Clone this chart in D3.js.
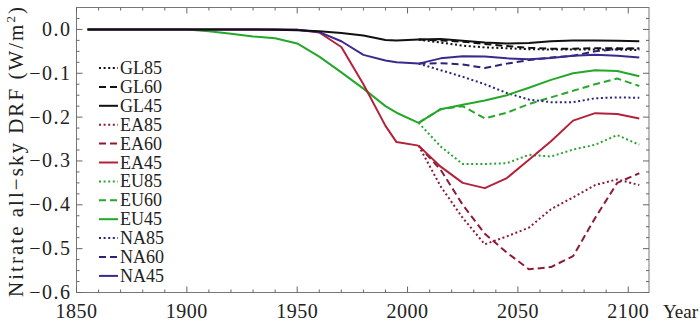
<!DOCTYPE html>
<html>
<head>
<meta charset="utf-8">
<script src="https://cdn.jsdelivr.net/npm/d3@7"></script>
<style>
  body { margin: 0; background: #fff; }
  svg { display: block; }
</style>
</head>
<body>
<script>
const W = 700, H = 323;
const box = {left: 76.5, top: 7.5, right: 649, bottom: 292.5};

// historical period, shared by all scenarios of a region
const histYears = [1855, 1900, 1910, 1920, 1930, 1940, 1950, 1960, 1970, 1980, 1990, 1995, 2005];
const histGL = [0, 0, 0, 0, 0, -0.001, -0.002, -0.004, -0.008, -0.014, -0.024, -0.025, -0.023];
const histEA = [0, 0, 0, 0, 0, 0, -0.001, -0.007, -0.04, -0.125, -0.22, -0.257, -0.265];
const histEU = [0, 0, -0.004, -0.01, -0.016, -0.02, -0.032, -0.062, -0.098, -0.135, -0.175, -0.19, -0.213];
const histNA = [0, 0, 0, 0, 0, 0, -0.001, -0.006, -0.027, -0.058, -0.071, -0.075, -0.078];

// scenario period
const futYears = [2005, 2015, 2025, 2035, 2045, 2055, 2065, 2075, 2085, 2095, 2105];
const GL85 = [-0.023, -0.03, -0.037, -0.041, -0.043, -0.045, -0.046, -0.046, -0.046, -0.046, -0.047];
const GL60 = [-0.023, -0.025, -0.028, -0.033, -0.038, -0.042, -0.044, -0.044, -0.043, -0.043, -0.044];
const GL45 = [-0.023, -0.022, -0.026, -0.03, -0.032, -0.031, -0.027, -0.025, -0.025, -0.026, -0.027];
const EA85 = [-0.265, -0.358, -0.43, -0.49, -0.472, -0.452, -0.41, -0.383, -0.355, -0.342, -0.355];
const EA60 = [-0.265, -0.32, -0.4, -0.466, -0.509, -0.547, -0.542, -0.517, -0.43, -0.35, -0.328];
const EA45 = [-0.265, -0.313, -0.35, -0.362, -0.339, -0.297, -0.255, -0.208, -0.191, -0.193, -0.203];
const EU85 = [-0.213, -0.267, -0.307, -0.307, -0.305, -0.286, -0.29, -0.274, -0.263, -0.241, -0.263];
const EU60 = [-0.213, -0.182, -0.175, -0.203, -0.19, -0.17, -0.155, -0.14, -0.125, -0.112, -0.129];
const EU45 = [-0.213, -0.182, -0.172, -0.162, -0.15, -0.133, -0.115, -0.1, -0.093, -0.095, -0.107];
const NA85 = [-0.078, -0.093, -0.108, -0.125, -0.145, -0.16, -0.166, -0.166, -0.157, -0.155, -0.156];
const NA60 = [-0.078, -0.077, -0.08, -0.088, -0.078, -0.07, -0.064, -0.06, -0.05, -0.045, -0.043];
const NA45 = [-0.078, -0.066, -0.061, -0.062, -0.066, -0.068, -0.065, -0.06, -0.058, -0.06, -0.064];

const xTicks = [1850, 1900, 1950, 2000, 2050, 2100];
const yTicks = [0, -0.1, -0.2, -0.3, -0.4, -0.5, -0.6];

const colors = {GL: '#111111', EA: '#b3223a', EU: '#23a82a', NA: '#3b2a8c'};
// scenario lines of a region are a bit darker in the figure
const darkColors = {GL: '#111111', EA: '#8c1b38', EU: '#2aa530', NA: '#2e2278'};
const dashes = {'85': '2,2.6', '60': '7,4', '45': null};
const lineColor = s => s.sc === '45' ? colors[s.region] : darkColors[s.region];

const history = [
  {region: 'EU', values: histEU},
  {region: 'EA', values: histEA},
  {region: 'NA', values: histNA},
  {region: 'GL', values: histGL}
];

const series = [
  {name: 'GL85', region: 'GL', sc: '85', values: GL85},
  {name: 'GL60', region: 'GL', sc: '60', values: GL60},
  {name: 'GL45', region: 'GL', sc: '45', values: GL45},
  {name: 'EA85', region: 'EA', sc: '85', values: EA85},
  {name: 'EA60', region: 'EA', sc: '60', values: EA60},
  {name: 'EA45', region: 'EA', sc: '45', values: EA45},
  {name: 'EU85', region: 'EU', sc: '85', values: EU85},
  {name: 'EU60', region: 'EU', sc: '60', values: EU60},
  {name: 'EU45', region: 'EU', sc: '45', values: EU45},
  {name: 'NA85', region: 'NA', sc: '85', values: NA85},
  {name: 'NA60', region: 'NA', sc: '60', values: NA60},
  {name: 'NA45', region: 'NA', sc: '45', values: NA45}
];

const x = d3.scaleLinear().domain([1850, 2109.4]).range([box.left, box.right]);
const y = d3.scaleLinear().domain([-0.6, 0.05]).range([box.bottom, box.top]);

const svg = d3.select('body').append('svg')
  .attr('width', W)
  .attr('height', H)
  .attr('viewBox', [0, 0, W, H])
  .attr('font-family', "'Liberation Serif', 'Times New Roman', serif");

const tickColor = '#666';

// frame
svg.append('rect')
  .attr('x', box.left).attr('y', box.top)
  .attr('width', box.right - box.left).attr('height', box.bottom - box.top)
  .attr('fill', 'none').attr('stroke', '#777').attr('stroke-width', 1);

// inward ticks on all four sides
const xMinor = d3.range(1860, 2110, 10).filter(v => v % 50 !== 0);
const yMinor = d3.range(-0.575, 0.05, 0.025).filter(v => Math.abs(v * 10 - Math.round(v * 10)) > 0.01);

const tickG = svg.append('g').attr('stroke', tickColor).attr('stroke-width', 1);

const addXTicks = (vals, len) => {
  tickG.selectAll(null).data(vals).join('line')
    .attr('x1', d => x(d)).attr('x2', d => x(d))
    .attr('y1', box.bottom).attr('y2', box.bottom - len);
  tickG.selectAll(null).data(vals).join('line')
    .attr('x1', d => x(d)).attr('x2', d => x(d))
    .attr('y1', box.top).attr('y2', box.top + len);
};
const addYTicks = (vals, len) => {
  tickG.selectAll(null).data(vals).join('line')
    .attr('y1', d => y(d)).attr('y2', d => y(d))
    .attr('x1', box.left).attr('x2', box.left + len);
  tickG.selectAll(null).data(vals).join('line')
    .attr('y1', d => y(d)).attr('y2', d => y(d))
    .attr('x1', box.right).attr('x2', box.right - len);
};
addXTicks(xTicks, 6);
addXTicks(xMinor, 3);
addYTicks(yTicks, 6);
addYTicks(yMinor, 3);

// tick labels
const fmt = d3.format('.1f');
svg.append('g').selectAll('text').data(yTicks).join('text')
  .attr('x', box.left - 5)
  .attr('y', d => y(d) + 6.5)
  .attr('text-anchor', 'end')
  .attr('font-size', 20)
  .attr('letter-spacing', 1.5)
  .attr('fill', '#222')
  .text(d => fmt(d));

svg.append('g').selectAll('text').data(xTicks).join('text')
  .attr('x', d => x(d))
  .attr('y', 318)
  .attr('text-anchor', 'middle')
  .attr('font-size', 20)
  .attr('letter-spacing', 0.5)
  .attr('fill', '#222')
  .text(d => d);

svg.append('text')
  .attr('x', 663).attr('y', 318)
  .attr('font-size', 19)
  .attr('fill', '#222')
  .text('Year');

const yTitle = svg.append('text')
  .attr('transform', 'translate(23,152) rotate(-90)')
  .attr('text-anchor', 'middle')
  .attr('font-size', 21)
  .attr('fill', '#222')
  .attr('textLength', 290)
  .attr('lengthAdjust', 'spacing');
yTitle.append('tspan').text('Nitrate all\u2212sky DRF (W/m');
yTitle.append('tspan').attr('font-size', 13).attr('dy', -8).text('2');
yTitle.append('tspan').attr('dy', 8).text(')');

// lines
const line = d3.line().x(d => x(d[0])).y(d => y(d[1]));
const plot = svg.append('g').attr('fill', 'none').attr('stroke-width', 2).attr('stroke-linejoin', 'round');

const order = ['EU', 'EA', 'NA', 'GL'];
order.forEach(r => {
  series.filter(s => s.region === r && s.sc !== '45').forEach(s => {
    plot.append('path')
      .attr('d', line(futYears.map((yr, i) => [yr, s.values[i]])))
      .attr('stroke', lineColor(s))
      .attr('stroke-dasharray', dashes[s.sc]);
  });
});
history.forEach(h => {
  plot.append('path')
    .attr('d', line(histYears.map((yr, i) => [yr, h.values[i]])))
    .attr('stroke', colors[h.region]);
});
order.forEach(r => {
  series.filter(s => s.region === r && s.sc === '45').forEach(s => {
    plot.append('path')
      .attr('d', line(futYears.map((yr, i) => [yr, s.values[i]])))
      .attr('stroke', lineColor(s));
  });
});

// legend
const legend = svg.append('g').attr('id', 'legend');
const item = legend.selectAll('g').data(series).join('g')
  .attr('transform', (d, i) => `translate(99, ${68 + i * 18.9})`);
item.append('line')
  .attr('x1', 0).attr('x2', 19)
  .attr('stroke', d => lineColor(d))
  .attr('stroke-width', 2)
  .attr('stroke-dasharray', d => dashes[d.sc]);
item.append('text')
  .attr('x', 21).attr('y', 6)
  .attr('font-size', 18)
  .attr('fill', '#222')
  .text(d => d.name);
</script>
</body>
</html>
